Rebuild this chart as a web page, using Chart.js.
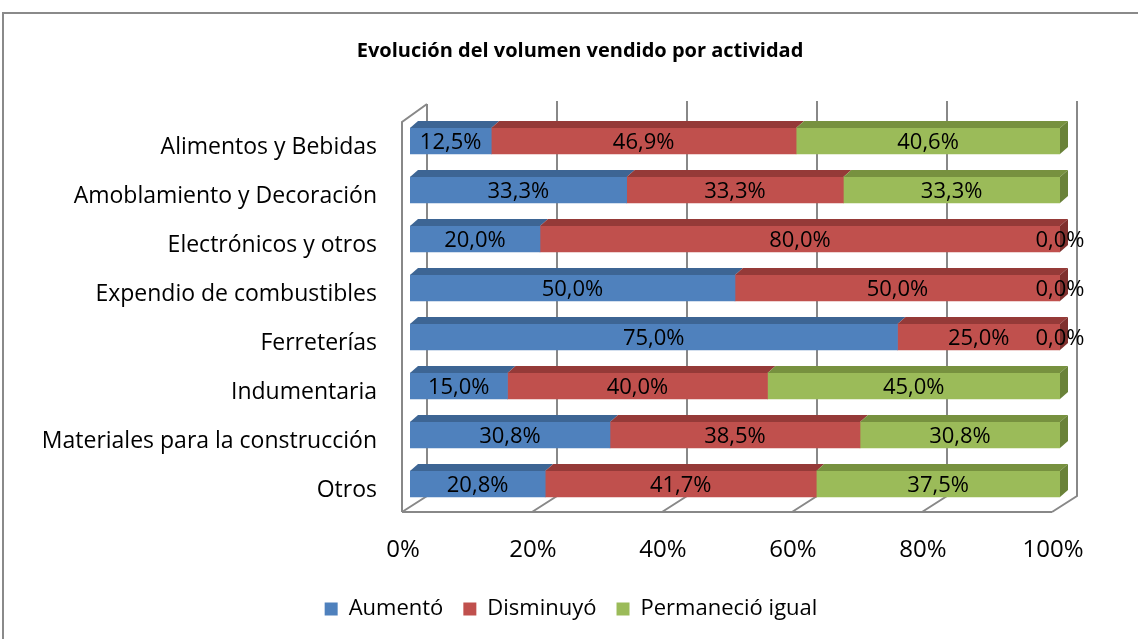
<!DOCTYPE html>
<html><head><meta charset="utf-8">
<script src="https://cdn.jsdelivr.net/npm/chart.js@4/dist/chart.umd.min.js"></script>
<style>
html,body{margin:0;padding:0;background:#fff;overflow:hidden;width:1138px;height:639px;}
#frame{position:absolute;left:2px;top:12px;width:1200px;height:700px;border:2px solid #8a8a8a;box-sizing:border-box;}
#wrap{position:absolute;left:0;top:0;width:1160px;height:639px;}
</style></head><body>
<div id="frame"></div>
<div id="wrap"><canvas id="c" width="1160" height="639"></canvas></div>
<script>
const categories = ['Alimentos y Bebidas','Amoblamiento y Decoración','Electrónicos y otros','Expendio de combustibles','Ferreterías','Indumentaria','Materiales para la construcción','Otros'];
const aumento    = [12.5, 33.3, 20.0, 50.0, 75.0, 15.0, 30.8, 20.8];
const disminuyo  = [46.9, 33.3, 80.0, 50.0, 25.0, 40.0, 38.5, 41.7];
const permanecio = [40.6, 33.3,  0.0,  0.0,  0.0, 45.0, 30.8, 37.5];
const seriesNames = ['Aumentó','Disminuyó','Permaneció igual'];
const xTicks = [0, 20, 40, 60, 80, 100];
const chartTitle = 'Evolución del volumen vendido por actividad';

const rawSeries = [aumento, disminuyo, permanecio];
const rowSums = categories.map((_, i) => aumento[i] + disminuyo[i] + permanecio[i]);
const pct = arr => arr.map((v, i) => v / rowSums[i] * 100);

const frontColors = ['#4F81BD', '#C0504D', '#9BBB59'];
const topColors   = ['#3D6594', '#953A38', '#77913F'];
const sideColors  = ['#34577F', '#7F302E', '#6A8239'];
const FONT = 'Open Sans';
const DX = 8, DY = -7;

const three = {
  id: 'three',
  afterLayout(chart) {
    if (chart.titleBlock) { chart.titleBlock.left += 50; chart.titleBlock.right += 50; }
    if (chart.legend) { chart.legend.left += 41; chart.legend.right += 41; }
  },
  beforeDatasetsDraw(chart) {
    const ctx = chart.ctx, xs = chart.scales.x;
    const floorF = 512, floorB = 496, wallTop = 101;
    const fOff = -8, bOff = 17;
    ctx.save();
    ctx.strokeStyle = '#888888'; ctx.lineWidth = 2;
    xTicks.forEach((v, i) => {
      const x = xs.getPixelForValue(v);
      ctx.beginPath();
      ctx.moveTo(x + bOff, i === 0 ? 104 : wallTop);
      ctx.lineTo(x + bOff, floorB);
      ctx.lineTo(x + fOff, floorF);
      ctx.stroke();
    });
    const x0 = xs.getPixelForValue(0), x1 = xs.getPixelForValue(100);
    ctx.beginPath();
    ctx.moveTo(x0 + fOff, floorF); ctx.lineTo(x0 + fOff, 122); ctx.lineTo(x0 + bOff, 104);
    ctx.stroke();
    ctx.beginPath(); ctx.moveTo(x0 + fOff, floorF); ctx.lineTo(x1 + fOff, floorF); ctx.stroke();
    ctx.restore();
  },
  afterDatasetsDraw(chart) {
    const ctx = chart.ctx;
    const metas = chart.data.datasets.map((d, i) => chart.getDatasetMeta(i));
    ctx.save();
    for (let r = 0; r < categories.length; r++) {
      let last = null;
      metas.forEach((m, di) => {
        const p = m.data[r].getProps(['x', 'y', 'base', 'height'], true);
        const l = Math.min(p.x, p.base), rr = Math.max(p.x, p.base);
        if (rr - l < 0.5) return;
        const yt = p.y - p.height / 2;
        ctx.fillStyle = topColors[di];
        ctx.beginPath();
        ctx.moveTo(l, yt); ctx.lineTo(rr, yt); ctx.lineTo(rr + DX, yt + DY); ctx.lineTo(l + DX, yt + DY);
        ctx.closePath(); ctx.fill();
        last = {di, rr, yt, yb: p.y + p.height / 2};
      });
      if (last) {
        ctx.fillStyle = sideColors[last.di];
        ctx.beginPath();
        ctx.moveTo(last.rr, last.yt); ctx.lineTo(last.rr + DX, last.yt + DY);
        ctx.lineTo(last.rr + DX, last.yb + DY); ctx.lineTo(last.rr, last.yb);
        ctx.closePath(); ctx.fill();
      }
    }
    ctx.fillStyle = '#000';
    ctx.font = '22px "' + FONT + '"';
    ctx.textAlign = 'center'; ctx.textBaseline = 'middle';
    metas.forEach((m, di) => {
      m.data.forEach((el, r) => {
        const p = el.getProps(['x', 'y', 'base'], true);
        const v = rawSeries[di][r];
        const txt = v.toFixed(1).replace('.', ',') + '%';
        ctx.fillText(txt, (p.x + p.base) / 2, p.y + 2);
      });
    });
    ctx.restore();
  }
};

new Chart(document.getElementById('c'), {
  type: 'bar',
  data: {
    labels: categories,
    datasets: rawSeries.map((s, i) => ({
      label: seriesNames[i], data: pct(s), backgroundColor: frontColors[i],
      borderWidth: 0, barThickness: 26
    }))
  },
  options: {
    indexAxis: 'y', responsive: false, animation: false,
    layout: {padding: {left: 0, right: 100, top: 0, bottom: 9}},
    scales: {
      x: {
        stacked: true, min: 0, max: 100,
        afterBuildTicks: s => { s.ticks = xTicks.map(v => ({value: v})); },
        afterFit: s => { s.height = 69.5; },
        ticks: {callback: v => v + '%', labelOffset: -7, padding: 27, maxRotation: 0, color: '#000', font: {family: FONT, size: 24}},
        grid: {display: false, drawTicks: false}, border: {display: false}
      },
      y: {
        stacked: true,
        afterFit: s => { s.width = 410; },
        ticks: {padding: 33, labelOffset: 6, color: '#000', font: {family: FONT, size: 23}},
        grid: {display: false, drawTicks: false}, border: {display: false}
      }
    },
    plugins: {
      title: {display: true, text: chartTitle, color: '#000', font: {family: FONT, size: 20, weight: 'bold'}, padding: {top: 39, bottom: 53.5}},
      legend: {position: 'bottom', labels: {boxWidth: 13, boxHeight: 13, padding: 20, color: '#000', font: {family: FONT, size: 22}}},
      tooltip: {enabled: false}
    }
  },
  plugins: [three]
});
</script>
</body></html>
